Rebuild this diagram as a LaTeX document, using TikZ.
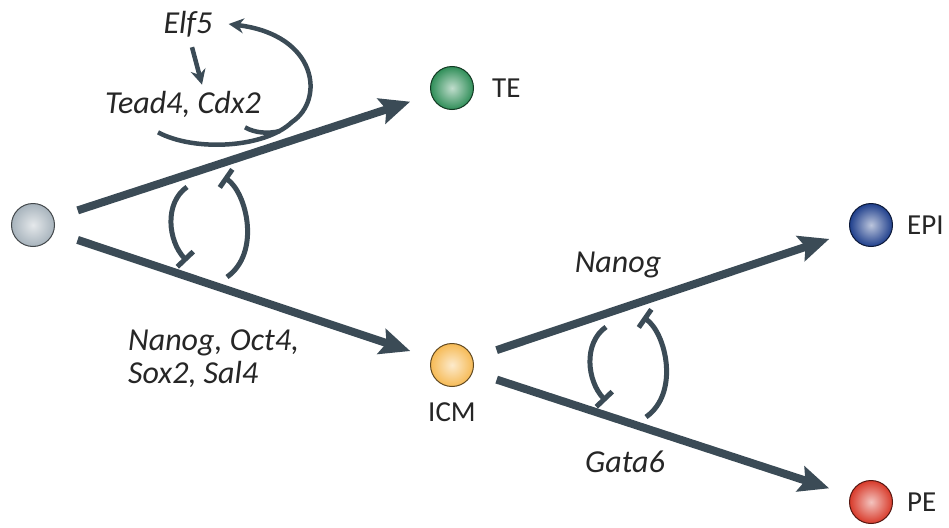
\documentclass[tikz,border=0pt]{standalone}
\usepackage{fontspec}
\setmainfont{Carlito}
\usetikzlibrary{arrows.meta,positioning}

\definecolor{slate}{HTML}{3B4B56}
\definecolor{ink}{HTML}{262626}
\definecolor{cgray}{HTML}{A7B3BC}
\definecolor{cgreen}{HTML}{2F8E58}
\definecolor{cyellow}{HTML}{F6BA55}
\definecolor{cblue}{HTML}{1F3F8C}
\definecolor{cred}{HTML}{D83A2A}

\begin{document}
\begin{tikzpicture}[x=1pt, y=-1pt,
  cell/.style={circle, draw=#1!40!black, line width=1pt, minimum size=43pt,
    inner sep=0pt, shading=radial, inner color=#1!30!white, outer color=#1},
  fate/.style={-{Stealth[length=30pt, width=26pt, inset=5pt]}, slate,
    line width=8pt, shorten <=25pt, shorten >=22pt},
  block/.style={-{Bar[width=22pt]}, slate, line width=5pt},
  feedback/.style={slate, line width=4.5pt},
  gene/.style={font=\itshape\fontsize{32}{33}\selectfont, text=ink, inner sep=2pt},
  tag/.style={font=\fontsize{29}{34}\selectfont, text=ink, inner sep=2pt}]

  \useasboundingbox (0,0) rectangle (949,527);

  % Zellen
  \node[cell=cgray]   (stem) at (33,225)  {};
  \node[cell=cgreen]  (te)   at (452,88)  {};
  \node[cell=cyellow] (icm)  at (452,365) {};
  \node[cell=cblue]   (epi)  at (871,225) {};
  \node[cell=cred]    (pe)   at (871,502) {};

  % Namen der Zelltypen
  \node[tag, right=16pt of te]  {TE};
  \node[tag, right=12pt of epi] {EPI};
  \node[tag, right=12pt of pe]  {PE};
  \node[tag, below=13pt of icm] {ICM};

  % Gene
  \node[gene] (elf)   at (188,24)  {Elf5};
  \node[gene] (tead)  at (183,104) {Tead4, Cdx2};
  \node[gene, anchor=north west, align=left] (plur) at (126,328)
    {Nanog, Oct4,\\Sox2, Sal4};
  \node[gene] (nanog) at (618,265) {Nanog};
  \node[gene] (gata)  at (625,462) {Gata6};

  % Entwicklungspfeile
  \draw[fate] (stem) -- (te);
  \draw[fate] (stem) -- (icm);
  \draw[fate] (icm) -- (epi);
  \draw[fate] (icm) -- (pe);

  % gegenseitige Hemmung
  \foreach \n in {stem,icm} {
    \begin{scope}[shift={(\n)}]
      \draw[block] (154,-38) .. controls (131,-22) and (135,16) .. (154,36);
      \draw[block] (194,52) .. controls (228,28) and (214,-32) .. (191,-48);
    \end{scope}
  }

  % Rueckkopplung Elf5 -- Tead4, Cdx2
  \draw[feedback, -{Stealth[length=15pt, width=15pt]}]
    ([shift={(4,8)}]elf.south) -- ([shift={(19,-4)}]tead.north);
  \draw[feedback, -{Stealth[length=15pt, width=15pt]}]
    ([shift={(-25,13)}]tead.south) .. controls (195,152) and (265,148) .. (292,122)
    .. controls (325,100) and (318,35) .. ([xshift=14pt]elf.east);
  \draw[feedback] ([shift={(62,8)}]tead.south) .. controls (255,133) and (268,134) .. (280,131);
\end{tikzpicture}
\end{document}
